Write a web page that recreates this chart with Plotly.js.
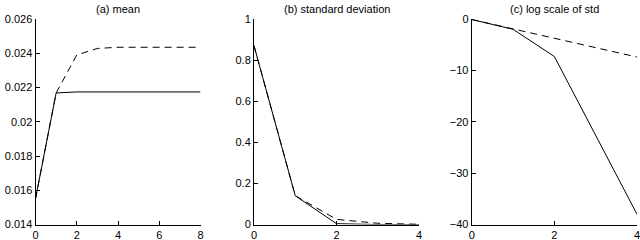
<!DOCTYPE html>
<html><head><meta charset="utf-8">
<script src="https://cdn.plot.ly/plotly-3.0.1.min.js"></script>
<style>html,body{margin:0;padding:0;background:#fff}</style>
</head><body>
<div id="chart" style="width:640px;height:240px"></div>
<script>
// Panel (a) mean
const meanX = [0,1,2,3,4,5,6,7,8];
const meanSolid = [0.0155,0.02168,0.02174,0.02174,0.02174,0.02174,0.02174,0.02174,0.02174];
const meanDashed = [0.0155,0.02168,0.0239,0.02428,0.02435,0.02435,0.02435,0.02435,0.02435];
// Panel (b) standard deviation
const stdX = [0,1,2,3,4];
const stdSolid = [0.87,0.14,0.004,0.0,0.0];
const stdDashed = [0.87,0.14,0.025,0.006,0.001];
// Panel (c) log scale of std
const logSolid = [-0.1,-2.0,-7.3,-22.5,-38];
const logDashed = [-0.1,-1.9,-3.7,-5.5,-7.4];
const titles = ["(a) mean","(b) standard deviation","(c) log scale of std"];
const aTicks = [0.014,0.016,0.018,0.02,0.022,0.024,0.026];
const aTickText = ["0.014","0.016","0.018","0.02","0.022","0.024","0.026"];

const W = 640, H = 240;
const solid = {color:'#000', width:1};
const dashed = {color:'#000', width:1, dash:'7px,5px'};
const traces = [
  {x:meanX, y:meanSolid, xaxis:'x', yaxis:'y', mode:'lines', line:solid},
  {x:meanX, y:meanDashed, xaxis:'x', yaxis:'y', mode:'lines', line:dashed},
  {x:stdX, y:stdSolid, xaxis:'x2', yaxis:'y2', mode:'lines', line:solid},
  {x:stdX, y:stdDashed, xaxis:'x2', yaxis:'y2', mode:'lines', line:dashed},
  {x:stdX, y:logSolid, xaxis:'x3', yaxis:'y3', mode:'lines', line:solid},
  {x:stdX, y:logDashed, xaxis:'x3', yaxis:'y3', mode:'lines', line:dashed}
];
const font = {family:'Liberation Sans, Arial, sans-serif', size:11, color:'#000'};
function ax(extra){
  return Object.assign({showline:true, linecolor:'#000', linewidth:1, ticks:'inside', ticklen:4,
    tickcolor:'#000', showgrid:false, zeroline:false, mirror:false, tickfont:font, fixedrange:true,
    ticklabeloverflow:'allow'}, extra);
}
const yDom = [1-224.5/H, 1-19/H];
const layout = {
  width:W, height:H, margin:{l:0,r:0,t:0,b:0}, showlegend:false,
  paper_bgcolor:'#fff', plot_bgcolor:'#fff', font:font,
  xaxis: ax({domain:[35.5/W,200.5/W], range:[0,8], tickvals:[0,2,4,6,8], anchor:'y'}),
  yaxis: ax({domain:yDom, range:[0.014,0.026], tickvals:aTicks, ticktext:aTickText, anchor:'x'}),
  xaxis2: ax({domain:[254/W,419/W], range:[0,4], tickvals:[0,2,4], anchor:'y2'}),
  yaxis2: ax({domain:yDom, range:[0,1], tickvals:[0,0.2,0.4,0.6,0.8,1], anchor:'x2'}),
  xaxis3: ax({domain:[471.7/W,637/W], range:[0,4], tickvals:[0,2,4], anchor:'y3'}),
  yaxis3: ax({domain:yDom, range:[-40,0], tickvals:[-40,-30,-20,-10,0], anchor:'x3'}),
  annotations: [
    {text:titles[0], x:(35.5+200.5)/2/W, y:1-9/H},
    {text:titles[1], x:(254+419)/2/W, y:1-9/H},
    {text:titles[2], x:(471.7+637)/2/W, y:1-9/H}
  ].map(a=>Object.assign({xref:'paper', yref:'paper', showarrow:false, xanchor:'center', yanchor:'middle', font:font}, a))
};
Plotly.newPlot('chart', traces, layout, {displayModeBar:false, staticPlot:true});
</script>
</body></html>
